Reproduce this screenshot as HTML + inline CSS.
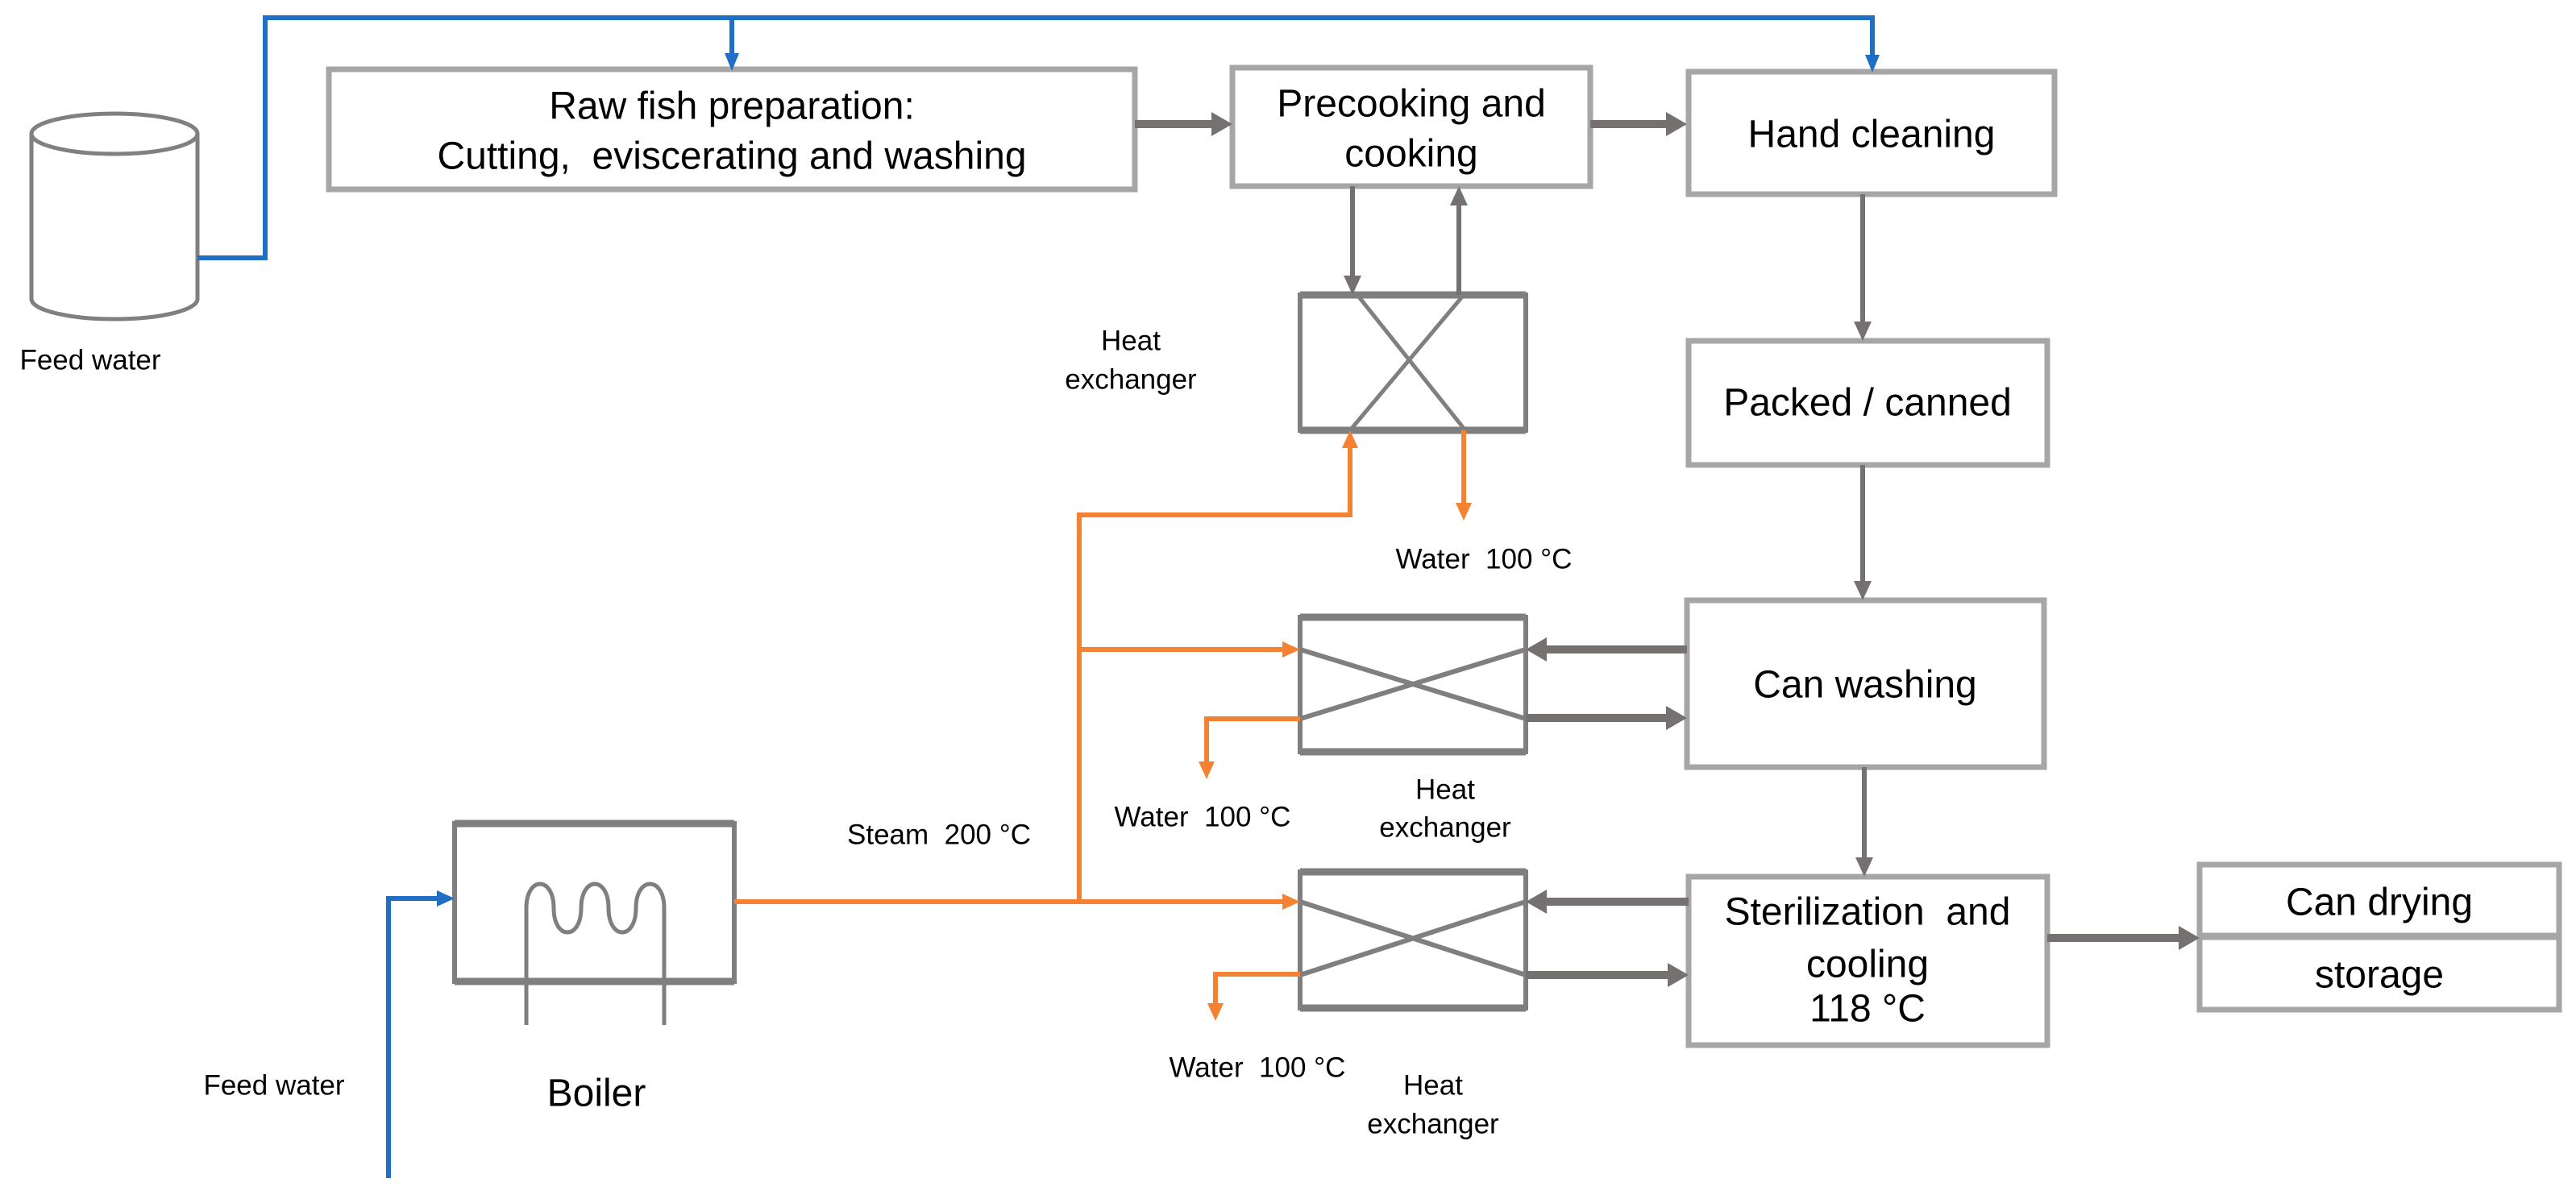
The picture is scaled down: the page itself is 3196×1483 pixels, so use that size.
<!DOCTYPE html>
<html><head><meta charset="utf-8"><style>
html,body{margin:0;padding:0;background:#fff;}
svg{display:block;}
text{font-family:"Liberation Sans",Arial,sans-serif;fill:#000;white-space:pre;}
</style></head><body>
<svg width="3196" height="1483" viewBox="0 0 3196 1483" xmlns="http://www.w3.org/2000/svg">
<g fill="none">
<!-- Process boxes -->
<g stroke="#a6a6a6" stroke-width="7">
<rect x="408" y="86" width="1000" height="149"/>
<rect x="1529" y="84" width="444" height="147"/>
<rect x="2095" y="89" width="454" height="152"/>
<rect x="2095" y="423" width="445" height="154"/>
<rect x="2093" y="745" width="443" height="207"/>
<rect x="2095" y="1088" width="445" height="209"/>
<rect x="2729" y="1073" width="446" height="180"/>
<line x1="2729" y1="1162" x2="3175" y2="1162" stroke-width="9"/>
</g>
<!-- Cylinder -->
<g stroke="#808080" stroke-width="5">
<ellipse cx="142" cy="166" rx="103" ry="25"/>
<path d="M39,166 L39,371 A103,25 0 0 0 245,371 L245,166"/>
</g>
<!-- Heat exchangers -->
<g stroke="#7f7f7f">
<rect x="1613" y="366" width="280" height="168" stroke-width="6"/>
<line x1="1613" y1="366" x2="1893" y2="366" stroke-width="9"/>
<line x1="1613" y1="534" x2="1893" y2="534" stroke-width="9"/>
<line x1="1684" y1="366" x2="1818" y2="534" stroke-width="5"/>
<line x1="1816" y1="366" x2="1675" y2="534" stroke-width="5"/>
<rect x="1613" y="766" width="280" height="167" stroke-width="6"/>
<line x1="1613" y1="766" x2="1893" y2="766" stroke-width="9"/>
<line x1="1613" y1="933" x2="1893" y2="933" stroke-width="9"/>
<line x1="1613" y1="806" x2="1893" y2="892" stroke-width="6"/>
<line x1="1613" y1="892" x2="1893" y2="806" stroke-width="6"/>
<rect x="1613" y="1082" width="280" height="169" stroke-width="6"/>
<line x1="1613" y1="1082" x2="1893" y2="1082" stroke-width="9"/>
<line x1="1613" y1="1251" x2="1893" y2="1251" stroke-width="9"/>
<line x1="1613" y1="1119" x2="1893" y2="1210" stroke-width="6"/>
<line x1="1613" y1="1210" x2="1893" y2="1119" stroke-width="6"/>
<!-- Boiler -->
<rect x="564" y="1022" width="347" height="196" stroke-width="6"/>
<line x1="564" y1="1022" x2="911" y2="1022" stroke-width="9"/>
<line x1="564" y1="1218" x2="911" y2="1218" stroke-width="9"/>
<path d="M653,1272 L653,1127 C653,1087 687,1087 687,1127 C687,1167 721,1167 721,1127 C721,1087 755,1087 755,1127 C755,1167 789,1167 789,1127 C789,1087 824,1087 824,1127 L824,1272" stroke-width="5"/>
</g>
<!-- Gray arrows -->
<g stroke="#767171">
<line x1="1408" y1="154" x2="1508" y2="154" stroke-width="10"/>
<line x1="1973" y1="154" x2="2072" y2="154" stroke-width="10"/>
<line x1="2540" y1="1164" x2="2708" y2="1164" stroke-width="10"/>
<line x1="2093" y1="806" x2="1914" y2="806" stroke-width="10"/>
<line x1="1893" y1="891" x2="2072" y2="891" stroke-width="10"/>
<line x1="2095" y1="1119" x2="1914" y2="1119" stroke-width="10"/>
<line x1="1893" y1="1210" x2="2074" y2="1210" stroke-width="10"/>
<line x1="1678" y1="231" x2="1678" y2="345" stroke-width="6"/>
<line x1="1810" y1="366" x2="1810" y2="252" stroke-width="6"/>
<line x1="2311" y1="241" x2="2311" y2="402" stroke-width="6"/>
<line x1="2311" y1="577" x2="2311" y2="724" stroke-width="6"/>
<line x1="2313" y1="952" x2="2313" y2="1067" stroke-width="6"/>
</g>
<g fill="#767171" stroke="none">
<polygon points="1529,154 1503,139 1503,169"/>
<polygon points="2093,154 2067,139 2067,169"/>
<polygon points="2729,1164 2703,1149 2703,1179"/>
<polygon points="1893,806 1919,791 1919,821"/>
<polygon points="2093,891 2067,876 2067,906"/>
<polygon points="1893,1119 1919,1104 1919,1134"/>
<polygon points="2095,1210 2069,1195 2069,1225"/>
<polygon points="1678,366 1667,342 1689,342"/>
<polygon points="1810,231 1799,255 1821,255"/>
<polygon points="2311,423 2300,399 2322,399"/>
<polygon points="2311,745 2300,721 2322,721"/>
<polygon points="2313,1088 2302,1064 2324,1064"/>
</g>
<!-- Orange -->
<g stroke="#f58233" stroke-width="6">
<polyline points="911,1119 1595,1119"/>
<polyline points="1339,1119 1339,639 1675,639 1675,553"/>
<polyline points="1339,806 1595,806"/>
<polyline points="1816,534 1816,628"/>
<polyline points="1613,892 1497,892 1497,950"/>
<polyline points="1613,1209 1508,1209 1508,1250"/>
</g>
<g fill="#f58233" stroke="none">
<polygon points="1613,1119 1591,1109 1591,1129"/>
<polygon points="1613,806 1591,796 1591,816"/>
<polygon points="1675,534 1665,556 1685,556"/>
<polygon points="1816,646 1806,624 1826,624"/>
<polygon points="1497,967 1487,945 1507,945"/>
<polygon points="1508,1267 1498,1245 1518,1245"/>
</g>
<!-- Blue -->
<g stroke="#1f6fc5" stroke-width="6">
<polyline points="245,320 329,320 329,22 2323,22 2323,70"/>
<polyline points="908,22 908,70"/>
<polyline points="482,1462 482,1115 546,1115"/>
</g>
<g fill="#1f6fc5" stroke="none">
<polygon points="908,88 899,66 917,66"/>
<polygon points="2323,90 2314,68 2332,68"/>
<polygon points="564,1115 542,1105 542,1125"/>
</g>
</g>
<!-- Text -->
<g text-anchor="middle" dominant-baseline="central" font-size="48">
<text x="908" y="132">Raw fish preparation:</text>
<text x="908" y="194">Cutting,  eviscerating and washing</text>
<text x="1751" y="129">Precooking and</text>
<text x="1751" y="191">cooking</text>
<text x="2322" y="167">Hand cleaning</text>
<text x="2317" y="500">Packed / canned</text>
<text x="2314" y="850">Can washing</text>
<text x="2317" y="1132">Sterilization  and</text>
<text x="2317" y="1197">cooling</text>
<text x="2317" y="1252">118 °C</text>
<text x="2952" y="1120">Can drying</text>
<text x="2952" y="1210">storage</text>
<text x="740" y="1357">Boiler</text>
</g>
<g text-anchor="middle" dominant-baseline="central" font-size="35">
<text x="1403" y="423">Heat</text>
<text x="1403" y="471">exchanger</text>
<text x="1793" y="980">Heat</text>
<text x="1793" y="1027">exchanger</text>
<text x="1778" y="1347">Heat</text>
<text x="1778" y="1395">exchanger</text>
<text x="112" y="447">Feed water</text>
<text x="340" y="1347">Feed water</text>
<text x="1841" y="694">Water  100 °C</text>
<text x="1492" y="1014">Water  100 °C</text>
<text x="1560" y="1325">Water  100 °C</text>
<text x="1165" y="1036">Steam  200 °C</text>
</g>
</svg>
</body></html>
